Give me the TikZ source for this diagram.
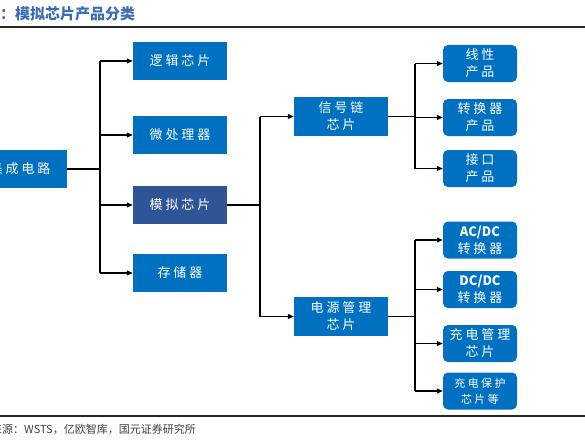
\documentclass[tikz,border=0pt]{standalone}
\usepackage{fontspec}
\setmainfont{Noto Sans CJK SC}
\newfontfamily\boxfont[LetterSpace=22]{Noto Sans CJK SC}
\newfontfamily\latinfont{Noto Sans CJK SC}
\usetikzlibrary{arrows.meta,positioning}
\definecolor{ink}{HTML}{000000}
\definecolor{chipblue}{HTML}{0070C0}
\definecolor{chipdark}{HTML}{2F5597}
\definecolor{titleblue}{HTML}{3A6DB5}
\definecolor{rulegray}{HTML}{262626}
\definecolor{muted}{HTML}{404040}

\begin{document}
\begin{tikzpicture}[
  x=1pt,y=-1pt,
  every node/.style={font=\fontsize{13}{17}\selectfont},
  chip/.style={rectangle,fill=chipblue,text=white,minimum width=94pt,minimum height=38pt,inner sep=0pt,align=center,font=\boxfont\fontsize{13}{17}\selectfont},
  analog/.style={chip,fill=chipdark},
  product/.style={chip,rounded corners=5pt,minimum width=74pt,minimum height=37pt},
  line/.style={line width=1.1pt,color=ink},
  arrow/.style={line,-{Triangle[length=6pt,width=5pt]}},
  rule/.style={line width=2pt,color=rulegray}
]
\clip (0,0) rectangle (585,444);
% header and footer
\node[anchor=west,inner sep=0pt,font=\fontsize{15}{15}\selectfont\bfseries,text=titleblue] (title) at (0,14) {：模拟芯片产品分类};
\coordinate (ruleL) at (0,27);
\coordinate (ruleR) at (585,27);
\draw[rule] (ruleL) -- (ruleR);
\coordinate (footL) at (0,416);
\coordinate (footR) at (585,416);
\draw[rule] (footL) -- (footR);
\node[anchor=west,inner sep=0pt,font=\fontsize{11}{11}\selectfont,text=muted] (source) at (-9,429) {来源：WSTS，亿欧智库，国元证券研究所};

% chips
\node[chip] (ic) at (20,169) {集成电路};
\node[chip] (logic) at (180,61) {逻辑芯片};
\node[chip] (cpu) at (180,135) {微处理器};
\node[analog] (analog) at (180,205) {模拟芯片};
\node[chip] (memory) at (180,273) {存储器};
\node[chip,minimum height=39pt] (signal) at (341,116.5) {信号链\\芯片};
\node[chip,minimum height=39pt] (power) at (341,316.5) {电源管理\\芯片};

% products
\node[product] (linear) at (480,63.5) {线性\\产品};
\node[product] (conv) at (480,117.5) {转换器\\产品};
\node[product] (iface) at (480,168.5) {接口\\产品};
\node[product] (acdc) at (480,240) {{\latinfont\bfseries AC/DC}\\转换器};
\node[product] (dcdc) at (480,289.5) {{\latinfont\bfseries DC/DC}\\转换器};
\node[product] (charge) at (480,343.5) {充电管理\\芯片};
\node[product,font=\boxfont\fontsize{11}{16}\selectfont] (protect) at (480,391) {充电保护\\芯片等};

% connectors
\coordinate (j1) at (100,0);
\coordinate (j2) at (260,0);
\coordinate (j3) at (415,0);
\draw[line] (ic.east) -- (j1 |- ic.east);
\draw[line] (j1 |- logic) -- (j1 |- memory);
\foreach \n in {logic,cpu,analog,memory}
  \draw[arrow] (j1 |- \n) -- (\n);
\draw[line] (analog) -- (j2 |- analog);
\draw[line] (j2 |- signal) -- (j2 |- power);
\foreach \n in {signal,power}
  \draw[arrow] (j2 |- \n) -- (\n);
\draw[line] (signal) -- (j3 |- signal);
\draw[line] (j3 |- linear) -- (j3 |- iface);
\foreach \n in {linear,conv,iface}
  \draw[arrow] (j3 |- \n) -- (\n);
\draw[line] (power) -- (j3 |- power);
\draw[line] (j3 |- acdc) -- (j3 |- protect);
\foreach \n in {acdc,dcdc,charge,protect}
  \draw[arrow] (j3 |- \n) -- (\n);
\end{tikzpicture}
\end{document}
